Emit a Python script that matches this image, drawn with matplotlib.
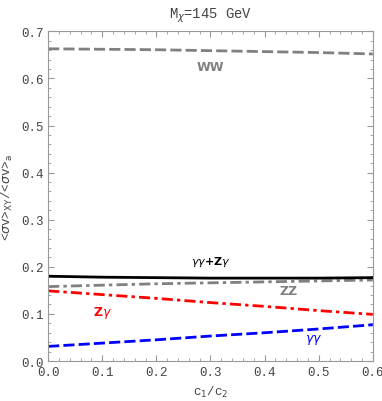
import numpy as np
import matplotlib.pyplot as plt
from matplotlib.ticker import MultipleLocator

# ratio of channel cross sections vs c1/c2
c_ratio = [0.0, 0.1, 0.2, 0.3, 0.4, 0.5, 0.6]
ww = [0.663, 0.662, 0.661, 0.659, 0.657, 0.655, 0.652]
zz = [0.158, 0.161, 0.164, 0.166, 0.168, 0.170, 0.172]
zgam = [0.149, 0.141, 0.133, 0.124, 0.116, 0.107, 0.099]
gamgam = [0.031, 0.038, 0.045, 0.053, 0.060, 0.068, 0.077]
sum_gg_zg = [0.180, 0.178, 0.177, 0.176, 0.176, 0.176, 0.177]

mono = 'Liberation Mono'

fig = plt.figure(figsize=(3.82, 4.02), dpi=100)
ax = fig.add_axes([0.126, 0.0995, 0.85, 0.82])

grey = '#808080'
ax.plot(c_ratio, ww, color=grey, lw=2, dashes=(4, 1.5))
ax.plot(c_ratio, zz, color=grey, lw=2, dashes=(4, 1.5, 1.2, 1.5))
ax.plot(c_ratio, zgam, color='red', lw=2, dashes=(4, 1.5, 1.2, 1.5))
ax.plot(c_ratio, gamgam, color='blue', lw=2, dashes=(4, 1.5))
ax.plot(c_ratio, sum_gg_zg, color='black', lw=2)

ax.text(0.30, 0.625, 'WW', color=grey, fontsize=9, fontweight='bold', ha='center', va='center')
ax.text(0.30, 0.213, r'$\gamma\gamma$+Z$\gamma$', color='black', fontsize=8, fontweight='bold',
        ha='center', va='center')
ax.text(0.445, 0.150, 'ZZ', color=grey, fontsize=9, fontweight='bold', ha='center', va='center')
ax.text(0.10, 0.104, r'Z$\gamma$', color='red', fontsize=9, fontweight='bold', ha='center', va='center')
ax.text(0.49, 0.046, r'$\gamma\gamma$', color='blue', fontsize=9, ha='center', va='center')

ax.set_xlim(0, 0.6)
ax.set_ylim(0, 0.7)
ax.xaxis.set_major_locator(MultipleLocator(0.1))
ax.xaxis.set_minor_locator(MultipleLocator(0.02))
ax.yaxis.set_major_locator(MultipleLocator(0.1))
ax.yaxis.set_minor_locator(MultipleLocator(0.02))
ax.tick_params(which='both', direction='in', top=True, right=True, colors='#999999',
               labelcolor='#444444', labelsize=9)
ax.tick_params(which='major', length=4)
ax.tick_params(which='minor', length=2)
ax.set_xticklabels(['%.1f' % v for v in ax.get_xticks()], fontfamily=mono)
ax.set_yticklabels(['%.1f' % v for v in ax.get_yticks()], fontfamily=mono)
for s in ax.spines.values():
    s.set_color('#999999')

ax.set_xlabel(r'c$_1$/c$_2$', fontfamily=mono, fontsize=9, color='#444444')
ax.set_ylabel(r'<$\sigma$v>$_{\rm XY}$/<$\sigma$v>$_{\rm a}$', fontfamily=mono, fontsize=9,
              color='#444444')
ax.set_title(r'M$_\chi$=145 GeV', fontfamily=mono, fontsize=10, color='#444444', pad=10)

fig.savefig('out.png', dpi=100)
